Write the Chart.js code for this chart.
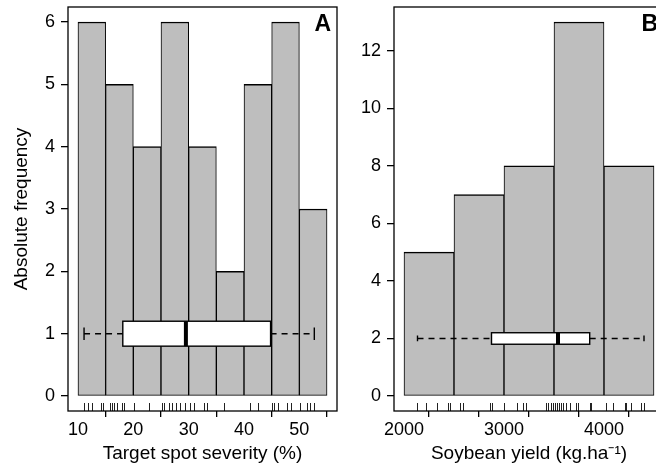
<!DOCTYPE html>
<html>
<head>
<meta charset="utf-8">
<script src="https://cdn.jsdelivr.net/npm/chart.js@4"></script>
<style>
  html, body { margin: 0; padding: 0; background: #fff; overflow: hidden; }
  #wrap { position: relative; width: 656px; height: 470px; overflow: hidden; }
  #panelA { position: absolute; left: 0; top: 0; }
  #panelB { position: absolute; left: 340px; top: 0; }
</style>
</head>
<body>
<div id="wrap">
  <canvas id="panelA" width="340" height="470"></canvas>
  <canvas id="panelB" width="340" height="470"></canvas>
</div>
<script>
// Panel A - target spot severity (%)
const severityBreaks = [10, 15, 20, 25, 30, 35, 40, 45, 50, 55];
const severityCounts = [6, 5, 4, 6, 4, 2, 5, 6, 3];
const severityBox = [11.1, 18.1, 29.5, 44.8, 52.7]; // min, q1, median, q3, max
const severityRug = [11.1, 11.8, 12.6, 14.2, 14.5, 15.8, 16.2, 16.6, 17.1, 18.0, 18.3, 20.1, 22.8,
  25.2, 25.6, 26.5, 27.0, 27.7, 28.5, 29.4, 30.3, 31.0, 32.7, 33.3, 36.3, 41.1, 42.6, 45.0, 45.4,
  46.2, 47.8, 48.4, 50.1, 51.3, 51.9, 52.6];
const severityTicks = [10, 20, 30, 40, 50];
const freqTicksA = [0, 1, 2, 3, 4, 5, 6];

// Panel B - soybean yield
const yieldBreaks = [2000, 2500, 3000, 3500, 4000, 4500];
const yieldCounts = [5, 7, 8, 13, 8];
const yieldBox = [2135, 2875, 3540, 3857, 4400];
const yieldRug = [2130, 2220, 2330, 2440, 2463, 2563, 2590, 2863, 2880, 2995, 3130, 3190, 3224,
  3424, 3440, 3474, 3490, 3507, 3530, 3550, 3574, 3590, 3624, 3657, 3717, 3740, 3857, 3874,
  4024, 4090, 4207, 4224, 4274, 4374, 4397];
const yieldTicks = [2000, 2500, 3000, 3500, 4000, 4500];
const yieldTickLabels = ["2000", "", "3000", "", "4000", ""];
const freqTicksB = [0, 2, 4, 6, 8, 10, 12];

const FONT = "'Liberation Sans', Arial, sans-serif";

// frame, rug, boxplot and panel letter
const extrasPlugin = {
  id: "extras",
  afterDatasetsDraw(chart, args, opts) {
    const ctx = chart.ctx;
    const area = chart.chartArea;
    const xs = chart.scales.x;
    const ys = chart.scales.y;
    ctx.save();

    // rug
    ctx.strokeStyle = "#222";
    ctx.lineWidth = 1;
    opts.rug.forEach((v) => {
      const x = Math.round(xs.getPixelForValue(v)) + 0.5;
      ctx.beginPath();
      ctx.moveTo(x, area.bottom);
      ctx.lineTo(x, area.bottom - 8);
      ctx.stroke();
    });

    // boxplot
    const [mn, q1, med, q3, mx] = opts.box.map((v) => xs.getPixelForValue(v));
    const yc = ys.getPixelForValue(opts.at);
    const hBox = Math.abs(ys.getPixelForValue(opts.at + 0.2) - yc);
    const hStaple = Math.abs(ys.getPixelForValue(opts.at + 0.1) - yc);
    ctx.strokeStyle = "#000";
    ctx.lineWidth = 1.4;
    ctx.setLineDash([6, 5]);
    ctx.beginPath();
    ctx.moveTo(mn, yc);
    ctx.lineTo(q1, yc);
    ctx.moveTo(q3, yc);
    ctx.lineTo(mx, yc);
    ctx.stroke();
    ctx.setLineDash([]);
    ctx.beginPath();
    ctx.moveTo(mn, yc - hStaple);
    ctx.lineTo(mn, yc + hStaple);
    ctx.moveTo(mx, yc - hStaple);
    ctx.lineTo(mx, yc + hStaple);
    ctx.stroke();
    ctx.fillStyle = "#fff";
    ctx.fillRect(q1, yc - hBox, q3 - q1, 2 * hBox);
    ctx.strokeRect(q1, yc - hBox, q3 - q1, 2 * hBox);
    ctx.lineWidth = 4;
    ctx.beginPath();
    ctx.moveTo(med, yc - hBox);
    ctx.lineTo(med, yc + hBox);
    ctx.stroke();

    // frame
    ctx.lineWidth = 1.3;
    ctx.strokeRect(area.left, area.top, area.right - area.left, area.bottom - area.top);

    // panel letter
    ctx.fillStyle = "#000";
    ctx.font = "bold 23px " + FONT;
    ctx.textAlign = "right";
    ctx.textBaseline = "top";
    ctx.fillText(opts.letter, area.right - 6, area.top + 6);
    ctx.restore();
  },
};

function histData(breaks, counts) {
  return counts.map((c, i) => ({ x: (breaks[i] + breaks[i + 1]) / 2, y: c }));
}

function makePanel(canvasId, cfg) {
  const lo = cfg.breaks[0];
  const hi = cfg.breaks[cfg.breaks.length - 1];
  const ymax = Math.max(...cfg.counts);
  const axisGrid = { display: true, drawOnChartArea: false, drawTicks: true, color: "#000", lineWidth: 1.3 };

  return new Chart(document.getElementById(canvasId), {
    type: "bar",
    data: {
      datasets: [
        {
          data: histData(cfg.breaks, cfg.counts),
          backgroundColor: "#bebebe",
          borderColor: "#000",
          borderWidth: { top: 1.5, left: 1, right: 1, bottom: 1 },
          borderSkipped: false,
          barPercentage: 1,
          categoryPercentage: 1,
        },
      ],
    },
    options: {
      responsive: false,
      animation: false,
      devicePixelRatio: 1,
      layout: { padding: { top: 7, right: cfg.padRight, left: 0, bottom: 0 } },
      plugins: {
        legend: { display: false },
        tooltip: { enabled: false },
        extras: { box: cfg.box, rug: cfg.rug, at: cfg.boxAt, letter: cfg.letter },
      },
      scales: {
        x: {
          type: "linear",
          offset: false,
          min: lo - 0.04 * (hi - lo),
          max: hi + 0.04 * (hi - lo),
          afterBuildTicks: (s) => { s.ticks = cfg.xTicks.map((v) => ({ value: v })); },
          afterFit: (s) => {
            s.height = 59;
            s.paddingLeft = 0;
            s.paddingRight = 0;
          },
          grid: { ...axisGrid, tickLength: 6 },
          border: { display: false },
          ticks: {
            color: "#000",
            font: { family: FONT, size: 18 },
            padding: 2,
            maxRotation: 0,
            autoSkip: false,
            callback: (v, i) => cfg.xLabels[i],
          },
          title: {
            display: true,
            text: cfg.xTitle,
            color: "#000",
            font: { family: FONT, size: 19 },
            padding: { top: 0, bottom: 5 },
          },
        },
        y: {
          min: -0.04 * ymax,
          max: ymax * 1.04,
          afterBuildTicks: (s) => { s.ticks = cfg.yTicks.map((v) => ({ value: v })); },
          afterFit: (s) => {
            s.width = cfg.yWidth;
            s.paddingTop = 0;
            s.paddingBottom = 0;
          },
          grid: { ...axisGrid, tickLength: 7 },
          border: { display: false },
          ticks: { color: "#000", font: { family: FONT, size: 18 }, padding: 6, autoSkip: false },
          title: {
            display: cfg.yTitle !== "",
            text: cfg.yTitle,
            color: "#000",
            font: { family: FONT, size: 19 },
            padding: { top: 10, bottom: 0 },
          },
        },
      },
    },
    plugins: [extrasPlugin],
  });
}

makePanel("panelA", {
  breaks: severityBreaks,
  counts: severityCounts,
  box: severityBox,
  rug: severityRug,
  boxAt: 1,
  letter: "A",
  xTicks: severityTicks,
  xLabels: severityTicks.map(String),
  yTicks: freqTicksA,
  xTitle: "Target spot severity (%)",
  yTitle: "Absolute frequency",
  yWidth: 68,
  padRight: 3,
});

makePanel("panelB", {
  breaks: yieldBreaks,
  counts: yieldCounts,
  box: yieldBox,
  rug: yieldRug,
  boxAt: 2,
  letter: "B",
  xTicks: yieldTicks,
  xLabels: yieldTickLabels,
  yTicks: freqTicksB,
  xTitle: "Soybean yield (kg.ha\u207B\u00B9)",
  yTitle: "",
  yWidth: 54,
  padRight: 16,
});
</script>
</body>
</html>
